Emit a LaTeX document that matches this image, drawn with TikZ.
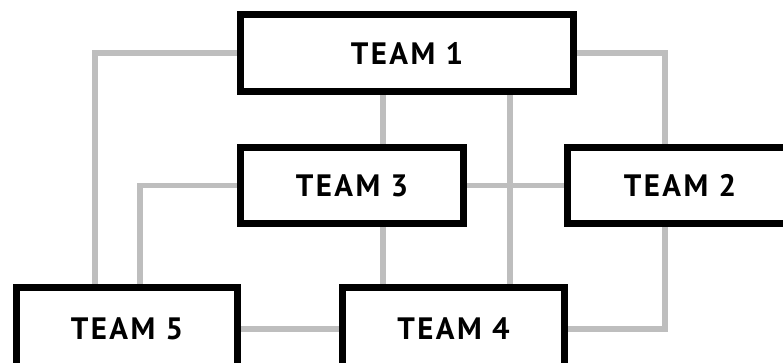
\documentclass[tikz,border=0pt]{standalone}
\usepackage{fontspec}
\newfontfamily\teamfont[LetterSpace=8]{PT Sans}
\usepackage{tikz}
\usetikzlibrary{positioning}
\definecolor{linkgray}{RGB}{190,190,190}

\begin{document}
\begin{tikzpicture}[
    x=0.025cm, y=-0.025cm,
    team/.style={rectangle, draw=black, line width=5pt, fill=white, minimum height=1.9cm, inner sep=0pt, font=\teamfont\bfseries\fontsize{22}{22}\selectfont},
    link/.style={draw=linkgray, line width=3.6pt, line join=miter}
]
    \clip (0,0) rectangle (783,362);
    \useasboundingbox (0,0) rectangle (783,362);
    \node [team, minimum width=8.325cm, minimum height=1.925cm] (team1) at (407,53) {TEAM 1};
    \node [team, minimum width=5.575cm] (team3) at (352,185.5) {TEAM 3};
    \node [team, minimum width=5.625cm] (team2) at (680,185.5) {TEAM 2};
    \node [team, minimum width=5.525cm, minimum height=2.075cm] (team5) at (127,329) {TEAM 5};
    \node [team, minimum width=5.55cm, minimum height=2.075cm] (team4) at (453.5,329) {TEAM 4};
    % links between the teams
    \draw [link] (team1.west) -| ([xshift=-0.8cm]team5.north);
    \draw [link] (team1.east) -| ([xshift=-0.375cm]team2.north);
    \draw [link] ([xshift=-0.6cm]team1.south) -- ([xshift=-0.6cm]team1.south |- team3.north);
    \draw [link] ([xshift=1.4125cm]team4.north) -- ([xshift=1.4125cm]team4.north |- team1.south);
    \draw [link] (team3.east) -- (team2.west);
    \draw [link] (team3.west) -| ([xshift=0.325cm]team5.north);
    \draw [link] ([xshift=-1.7625cm]team4.north) -- ([xshift=-1.7625cm]team4.north |- team3.south);
    \draw [link] ([xshift=-0.375cm]team2.south) |- (team4.east);
    \draw [link] (team5.east) -- (team4.west);
\end{tikzpicture}
\end{document}
